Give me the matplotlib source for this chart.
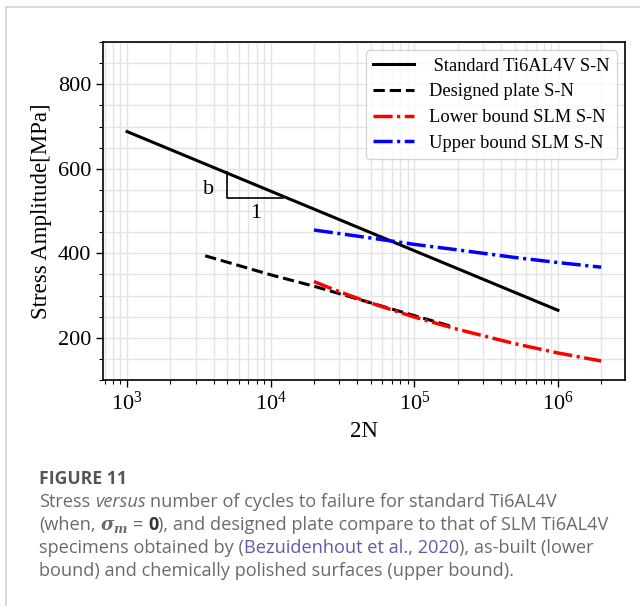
import matplotlib
matplotlib.use('Agg')
import matplotlib.pyplot as plt
from matplotlib.ticker import MultipleLocator, LogLocator, NullFormatter
from matplotlib.lines import Line2D

plt.rcParams['font.family'] = ['Liberation Serif', 'DejaVu Serif']
plt.rcParams['mathtext.fontset'] = 'stix'

# data (2N cycles, stress amplitude in MPa)
std_n = [1e3, 1e6]
std_s = [688, 265]

plate_n = [3.5e3, 1e4, 2e4, 4e4, 8e4, 1.9e5]
plate_s = [394, 349, 322, 292, 262, 225]

lower_n = [2e4, 3e4, 5e4, 1e5, 2e5, 5e5, 1e6, 2e6]
lower_s = [333, 309, 282, 249, 220, 186, 164, 145]

upper_n = [2e4, 5e4, 1e5, 2e5, 5e5, 1e6, 2e6]
upper_s = [455, 436, 421, 408, 390, 378, 367]

# slope triangle
tri_n = [5e3, 5e3, 1.21e4]
tri_s = [592, 531, 531]

labels = [' Standard Ti6AL4V S-N', 'Designed plate S-N',
          'Lower bound SLM S-N', 'Upper bound SLM S-N']

W, H = 640, 606
fig = plt.figure(figsize=(W / 100, H / 100), dpi=100)
ax = fig.add_axes([103 / W, 1 - 380 / H, (625 - 103) / W, (380 - 42) / H])

ax.plot(std_n, std_s, color='black', lw=2.2, label=labels[0])
ax.plot(plate_n, plate_s, color='black', lw=2.2, ls='--', label=labels[1])
ax.plot(lower_n, lower_s, color='red', lw=2.5, dashes=(5.5, 1.3, 0.9, 1.3), label=labels[2])
ax.plot(upper_n, upper_s, color='blue', lw=2.5, dashes=(5.5, 1.3, 0.9, 1.3), label=labels[3])
ax.plot(tri_n, tri_s, color='black', lw=1.2)
ax.text(3.72e3, 551, 'b', fontsize=16, ha='center', va='center')
ax.text(7.9e3, 495, '1', fontsize=16, ha='center', va='center')

ax.set_xscale('log')
ax.set_xlim(6.8e2, 2.93e6)
ax.set_ylim(100, 900)
ax.set_yticks([200, 400, 600, 800])
ax.yaxis.set_minor_locator(MultipleLocator(50))
ax.xaxis.set_minor_locator(LogLocator(base=10, subs=range(2, 10)))
ax.xaxis.set_minor_formatter(NullFormatter())
ax.grid(True, which='both', color='#e4e4e4', lw=1.0)
ax.set_axisbelow(True)
ax.tick_params(labelsize=16, width=1.0, length=5)
ax.tick_params(which='minor', length=3, width=0.8)
for sp in ax.spines.values():
    sp.set_linewidth(1.2)
ax.set_xlabel('2N', fontsize=16.5, labelpad=4)
ax.set_ylabel('Stress Amplitude[MPa]', fontsize=16.5, labelpad=4)

ax.legend(loc='upper right', fontsize=13.3, labelspacing=0.47,
          handlelength=2.2, borderaxespad=0.45, fancybox=True)

# thin frame round the figure panel
fig.add_artist(Line2D([6 / W, 1], [1 - 7 / H, 1 - 7 / H], color='#d2d2d2', lw=1.2))
fig.add_artist(Line2D([6 / W, 6 / W], [0, 1 - 7 / H], color='#d2d2d2', lw=1.2))

# caption
grey = '#6a6a6a'
link = '#5c5cab'
base = dict(family=['Open Sans', 'DejaVu Sans'], fontsize=13.1, color=grey, va='baseline')
renderer = fig.canvas.get_renderer()


def width_of(txt, kw):
    t = fig.text(0, 0, txt, **kw)
    w = t.get_window_extent(renderer).width
    t.remove()
    return w


space_w = width_of('x x', base) - width_of('xx', base)


def caption_line(y_px, parts):
    x = 39.0
    for txt, extra in parts:
        kw = dict(base, **extra)
        lead = len(txt) - len(txt.lstrip(' '))
        trail = len(txt) - len(txt.rstrip(' '))
        x += lead * space_w
        core = txt.strip(' ')
        t = fig.text(x / W, 1 - y_px / H, core, **kw)
        x += t.get_window_extent(renderer).width + trail * space_w


fig.text(39 / W, 1 - 483.5 / H, 'FIGURE 11', family=['Open Sans', 'DejaVu Sans'],
         fontsize=12.7, weight='bold', color='#555555', va='baseline')

plt.rcParams['mathtext.it'] = 'DejaVu Serif:italic:bold'
plt.rcParams['mathtext.rm'] = 'DejaVu Serif:bold'

caption_line(506.7, [('Stress ', {}), ('versus', {'style': 'italic'}),
                     (' number of cycles to failure for standard Ti6AL4V', {})])
caption_line(530.0, [('(when, ', {}), (r'$\sigma_m$', {'math_fontfamily': 'custom'}),
                     (' = ', {}), ('0', {'weight': 'bold', 'color': '#333333'}),
                     ('), and designed plate compare to that of SLM Ti6AL4V', {})])
caption_line(553.3, [('specimens obtained by (', {}), ('Bezuidenhout et al., 2020', {'color': link}),
                     ('), as-built (lower', {})])
caption_line(576.5, [('bound) and chemically polished surfaces (upper bound).', {})])

fig.savefig('out.png', dpi=100)
